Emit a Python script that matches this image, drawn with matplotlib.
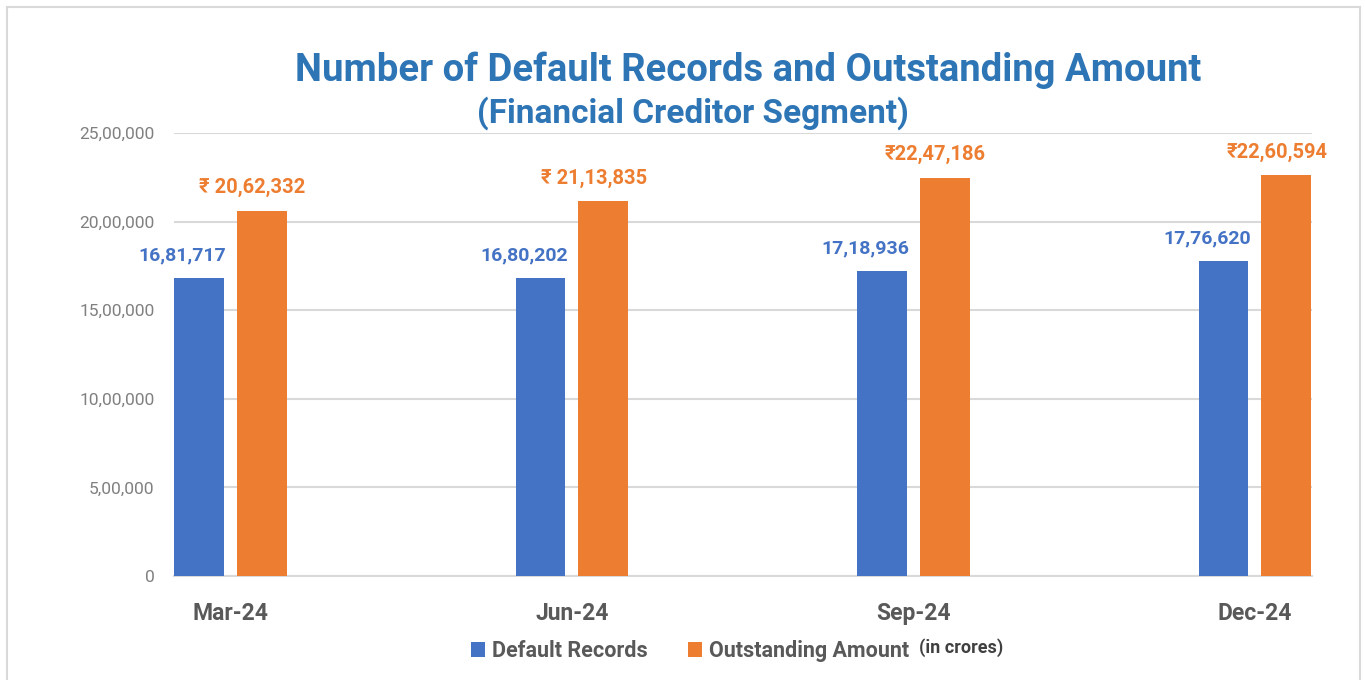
import numpy as np
import matplotlib.pyplot as plt
from matplotlib.patches import Rectangle

quarters = ['Mar-24', 'Jun-24', 'Sep-24', 'Dec-24']
default_records = [1681717, 1680202, 1718936, 1776620]
outstanding_amt = [2062332, 2113835, 2247186, 2260594]
rec_labels = ['16,81,717', '16,80,202', '17,18,936', '17,76,620']
amt_labels = ['₹ 20,62,332', '₹ 21,13,835', '₹22,47,186', '₹22,60,594']
yticks = [0, 500000, 1000000, 1500000, 2000000, 2500000]
ytick_labels = ['0', '5,00,000', '10,00,000', '15,00,000', '20,00,000', '25,00,000']

blue = '#4472C4'
orange = '#ED7D31'
title_blue = '#2E75B6'

plt.rcParams['font.family'] = ['Roboto', 'DejaVu Sans']

fig = plt.figure(figsize=(13.65, 6.8), dpi=100)
fig.patches.append(Rectangle((7/1365, -0.01), 1353/1365, 1 - 7/680 + 0.01,
                             transform=fig.transFigure, fill=False,
                             edgecolor='#d9d9d9', lw=1.5))
ax = fig.add_axes([174/1365, 1 - 576/680, (1312 - 174)/1365, (576 - 133)/680])

x = np.arange(len(quarters))
w = 0.146
off = 0.092
b1 = ax.bar(x - off, default_records, w, color=blue, label='Default Records', zorder=3)
b2 = ax.bar(x + off, outstanding_amt, w, color=orange, label='Outstanding Amount', zorder=3)

for r, lab in zip(b1, rec_labels):
    ax.annotate(lab, (r.get_x() + r.get_width()/2, r.get_height()),
                xytext=(-12, 10), textcoords='offset points', ha='center', va='bottom',
                color=blue, fontsize=14, fontweight='bold')
for r, lab in zip(b2, amt_labels):
    ax.annotate(lab, (r.get_x() + r.get_width()/2, r.get_height()),
                xytext=(-7, 10), textcoords='offset points', ha='center', va='bottom',
                color=orange, fontsize=14.5, fontweight='bold')

ax.set_xlim(-0.165, 3.167)
ax.set_ylim(0, 2500000)
ax.set_yticks(yticks)
ax.set_yticklabels(ytick_labels, color='#808080', fontsize=12.5)
ax.set_xticks(x)
ax.set_xticklabels(quarters, fontsize=16.5, fontweight='bold', color='#595959')
ax.tick_params(axis='both', length=0)
ax.tick_params(axis='y', pad=14)
ax.tick_params(axis='x', pad=19)
ax.grid(axis='y', color='#d9d9d9', lw=1.5, zorder=0)
for s in ['top', 'right', 'left']:
    ax.spines[s].set_visible(False)
ax.spines['bottom'].set_color('#d9d9d9')
ax.spines['bottom'].set_linewidth(1.5)

fig.text(748/1365, 1 - 70/680, 'Number of Default Records and Outstanding Amount',
         ha='center', va='center', fontsize=27.5, fontweight='bold', color=title_blue)
fig.text(693/1365, 1 - 113/680, '(Financial Creditor Segment)',
         ha='center', va='center', fontsize=24, fontweight='bold', color=title_blue)

leg = fig.legend(loc='center', bbox_to_anchor=(690/1365, 1 - 651/680), ncol=2, frameon=False,
                 prop={'size': 15.5, 'weight': 'bold'}, handlelength=0.65, handleheight=0.65,
                 handletextpad=0.3, columnspacing=1.9)
for t in leg.get_texts():
    t.set_color('#595959')

fig.canvas.draw()
bb = leg.get_window_extent()
fig.text(bb.x1 + 2, bb.y0 + bb.height/2 + 3, '(in crores)', transform=None,
         ha='left', va='center', fontsize=13, fontweight='bold', color='#404040')

fig.savefig('out.png', dpi=100)
